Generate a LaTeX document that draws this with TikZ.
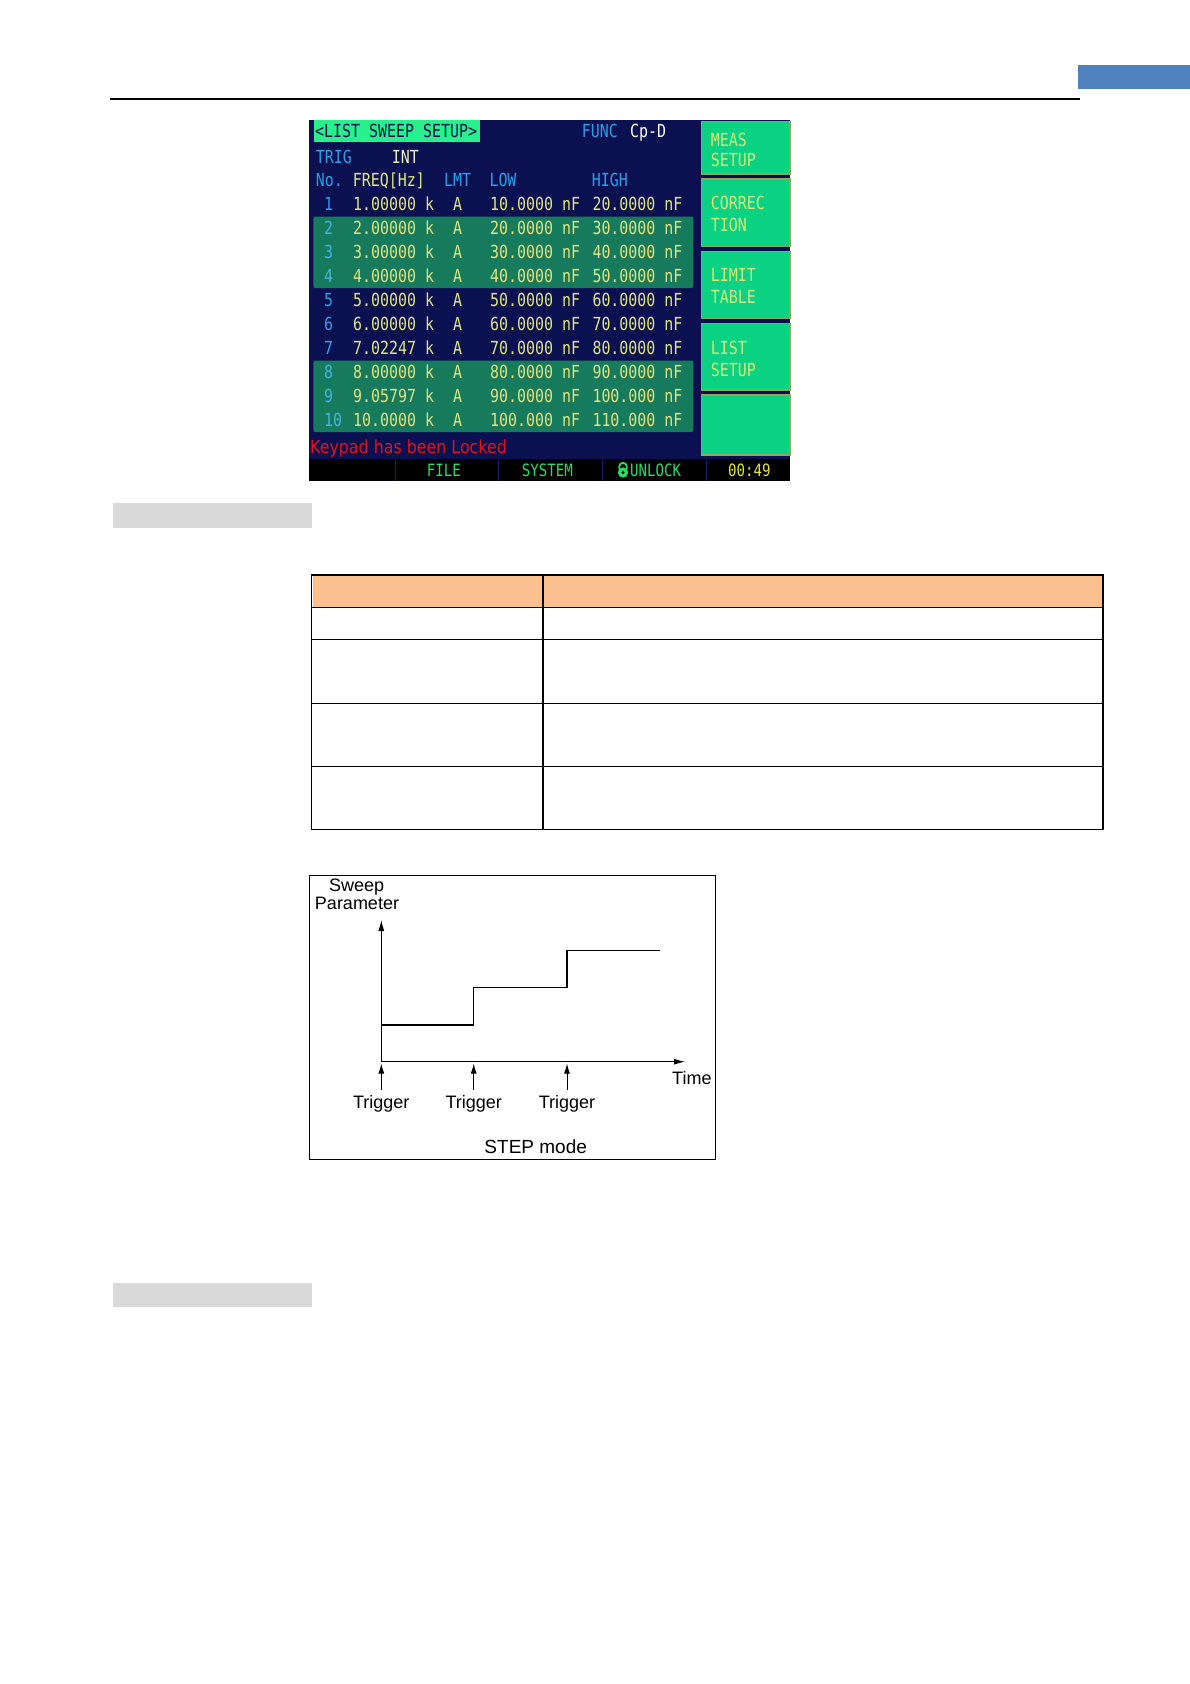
\documentclass[tikz,border=0pt]{standalone}
\usepackage{fontspec}
\setmainfont{Liberation Sans}
\newfontfamily\lcdfont[FakeStretch=0.83]{DejaVu Sans Mono}
\newfontfamily\kpfont[FakeStretch=0.88]{DejaVu Sans}
\usetikzlibrary{arrows.meta}
\definecolor{scrbg}{RGB}{10,16,80}
\definecolor{bandc}{RGB}{22,122,92}
\definecolor{titleg}{RGB}{40,240,140}
\definecolor{btng}{RGB}{10,210,130}
\definecolor{btnedge}{RGB}{150,165,80}
\definecolor{ytext}{RGB}{225,230,130}
\definecolor{ctext}{RGB}{40,160,235}
\definecolor{ctextl}{RGB}{70,180,230}
\definecolor{btntext}{RGB}{215,235,120}
\definecolor{redtext}{RGB}{225,20,30}
\definecolor{bargreen}{RGB}{40,220,100}
\definecolor{timey}{RGB}{230,230,50}
\definecolor{hdrfill}{RGB}{250,192,143}
\definecolor{grayband}{RGB}{217,217,217}
\definecolor{topblue}{RGB}{79,129,189}
\definecolor{sepc}{RGB}{20,30,110}
\begin{document}
\begin{tikzpicture}[x=1pt,y=-1pt,
  lcd/.style={font=\lcdfont\fontsize{18}{18}\selectfont, inner sep=0pt, anchor=base west},
  lcdy/.style={lcd, text=ytext},
  lcdc/.style={lcd, text=ctext},
  btnlbl/.style={lcd, text=btntext},
  btnbox/.style={fill=btng, draw=btnedge, line width=1.2pt},
  barlbl/.style={font=\lcdfont\fontsize{17}{17}\selectfont, inner sep=0pt, anchor=base west, text=bargreen},
  chartlbl/.style={font=\fontsize{18}{18}\selectfont, inner sep=0pt, anchor=base},
  tline/.style={line width=1.3pt, black},
  axis/.style={line width=1pt, -{Latex[length=11pt,width=6pt]}},
  trig/.style={line width=1pt, -{Latex[length=10pt,width=6pt]}}]
\useasboundingbox (0,0) rectangle (1190,1684);
\fill[white] (0,0) rectangle (1190,1684);
% page header
\fill[topblue] (1077.7,65) rectangle (1190,89);
\draw[line width=2pt] (110,99) -- (1080,99);
% ---------- screen ----------
\fill[scrbg] (309,120) rectangle (790,481);
\fill[titleg] (314,120) rectangle (480,141.5);
\node[lcd, text=scrbg] (title) at (315,137.5) {<LIST SWEEP SETUP>};
\node[lcdc] (func) at (581.7,137.5) {FUNC};
\node[lcd, text=white] (funcv) at (630,137.5) {Cp-D};
\node[lcdc] (trig) at (315.7,163.3) {TRIG};
\node[lcd, text=ytext!50!white] (trigv) at (391.7,163.3) {INT};
\node[lcdc] (hno) at (315.7,186.5) {No.};
\node[lcdy] (hfreq) at (352.7,186.5) {FREQ[Hz]};
\node[lcdc] (hlmt) at (444,186.5) {LMT};
\node[lcdc] (hlow) at (489.3,186.5) {LOW};
\node[lcdc] (hhigh) at (591.7,186.5) {HIGH};
\fill[bandc, rounded corners=2pt] (313.3,216.5) rectangle (693.3,288);
\fill[bandc, rounded corners=2pt] (313.3,360.5) rectangle (693.3,432);
\foreach \n/\f/\lo/\hi/\nc in {1/1.00000/10.0000/20.0000/ctext,2/2.00000/20.0000/30.0000/ctextl,
  3/3.00000/30.0000/40.0000/ctextl,4/4.00000/40.0000/50.0000/ctextl,5/5.00000/50.0000/60.0000/ctext,
  6/6.00000/60.0000/70.0000/ctext,7/7.02247/70.0000/80.0000/ctext,8/8.00000/80.0000/90.0000/ctextl,
  9/9.05797/90.0000/100.000/ctextl,10/10.0000/100.000/110.000/ctextl}{
  \pgfmathsetmacro{\yb}{210+(\n-1)*24.1}
  \node[lcd, text=\nc] (rn\n) at (324,\yb) {\n};
  \node[lcdy] (rf\n) at (353,\yb) {\f{} k};
  \node[lcdy] (ra\n) at (453,\yb) {A};
  \node[lcdy] (rl\n) at (490,\yb) {\lo{} nF};
  \node[lcdy] (rh\n) at (592.3,\yb) {\hi{} nF};
}
\node[font=\kpfont\fontsize{18}{18}\selectfont, inner sep=0pt, anchor=base west, text=redtext] (kp) at (310,453) {Keypad has been Locked};
% buttons
\draw[btnbox] (701.7,121.7) rectangle (790,174) node[pos=0, inner sep=0pt] (b1) {};
\draw[btnbox] (701.7,179) rectangle (790,246.7) node[pos=0, inner sep=0pt] (b2) {};
\draw[btnbox] (701.7,251.7) rectangle (790,318.3) node[pos=0, inner sep=0pt] (b3) {};
\draw[btnbox] (701.7,323.3) rectangle (790,390) node[pos=0, inner sep=0pt] (b4) {};
\draw[btnbox] (701.7,395) rectangle (790,455) node[pos=0, inner sep=0pt] (b5) {};
\node[btnlbl] (b1a) at (710.7,146.5) {MEAS};
\node[btnlbl] (b1b) at (710.7,166.5) {SETUP};
\node[btnlbl] (b2a) at (710.7,209.8) {CORREC};
\node[btnlbl] (b2b) at (710.7,231.8) {TION};
\node[btnlbl] (b3a) at (710.7,281.5) {LIMIT};
\node[btnlbl] (b3b) at (710.7,303.2) {TABLE};
\node[btnlbl] (b4a) at (710.7,354.8) {LIST};
\node[btnlbl] (b4b) at (710.7,376.5) {SETUP};
% bottom bar
\fill[black] (309,458.5) rectangle (790,481);
\foreach \sx in {395,498.3,602.7,706}{\draw[sepc, line width=1pt] (\sx,459) -- (\sx,481);}
\node[barlbl] (bfile) at (426.7,476) {FILE};
\node[barlbl] (bsys) at (521.7,476) {SYSTEM};
\node[barlbl] (bunl) at (630,476) {UNLOCK};
\node[barlbl, text=timey] (btime) at (728,476) {00:49};
\draw[bargreen, line width=1.8pt] (619.3,469) -- (619.3,466.5) arc (180:360:3.7) -- (626.7,469);
\fill[bargreen] (623,472.5) circle (5.2);
\fill[black] (623,472.5) circle (1.6);
% ---------- gray bands ----------
\fill[grayband] (112.7,502.7) rectangle (311.7,527.7);
\fill[grayband] (112.7,1282.7) rectangle (311.7,1306.7);
% ---------- table ----------
\fill[hdrfill] (312.5,576) rectangle (542,606.5);
\fill[hdrfill] (544,576) rectangle (1101.5,606.5);
\draw[tline] (311.5,575) rectangle (1103,829.3);
\foreach \ty in {607.3,639.3,703.3,766.3}{\draw[tline] (311.5,\ty) -- (1103,\ty);}
\draw[tline] (543,575) -- (543,829.3);
% ---------- STEP mode chart ----------
\draw[line width=1pt] (309.3,875.7) rectangle (715.7,1159.3);
\coordinate (o) at (381.3,1061.7);
\coordinate (ytop) at (381.3,920);
\coordinate (xend) at (685,1061.7);
\draw[axis] (o) -- (ytop);
\draw[axis] (o) -- (xend);
\draw[line width=1.3pt] (381.3,1025) -- (473.7,1025) -- (473.7,987.3) -- (567,987.3) -- (567,950.7) -- (660,950.7);
\foreach \tx/\nm in {381.3/t1,473.7/t2,567/t3}{
  \coordinate (\nm b) at (\tx,1090);
  \coordinate (\nm a) at (\tx,1063.5);
  \draw[trig] (\nm b) -- (\nm a);
  \node[chartlbl] (\nm) at (\tx,1108.3) {Trigger};
}
\node[chartlbl] (sweep) at (356.7,891) {Sweep};
\node[chartlbl] (param) at (357,909.7) {Parameter};
\node[chartlbl, anchor=base west] (time) at (672,1084.3) {Time};
\node[chartlbl, font=\fontsize{19}{19}\selectfont] (stepm) at (535.7,1153.7) {STEP mode};
\end{tikzpicture}
\end{document}
